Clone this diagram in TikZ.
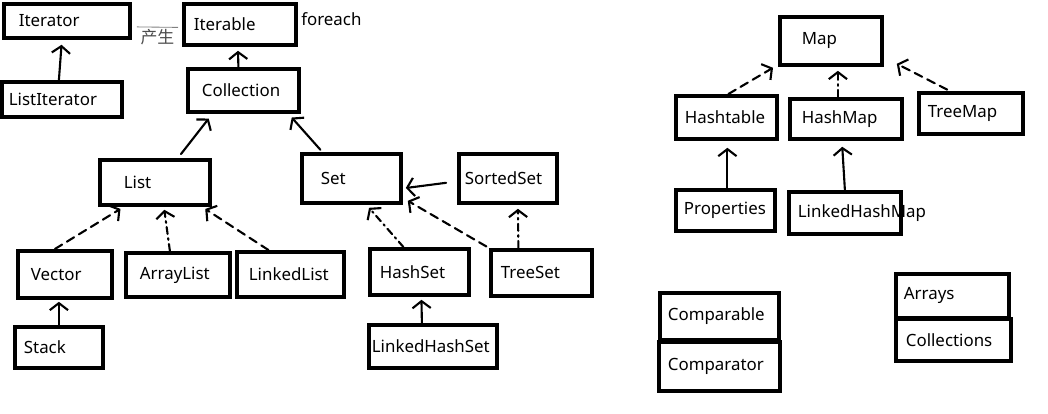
\documentclass[tikz,border=0pt]{standalone}
\usepackage{fontspec}
\setmainfont{Noto Sans}
\newfontfamily\cjk{Noto Sans CJK SC}
\usetikzlibrary{arrows.meta}
\newdimen\unitpx
\unitpx=0.025cm

\begin{document}
\begin{tikzpicture}[x=0.025cm, y=-0.025cm,
  cbox/.style={draw, line width=2.7pt, anchor=north west, align=left, inner ysep=0pt, font=\fontsize{12}{14}\selectfont},
  extends/.style={line width=1.5pt, line cap=round, -{Straight Barb[length=5pt,width=13pt]}},
  implements/.style={extends, dash pattern=on 6pt off 4pt},
  implements dot/.style={extends, dash pattern=on 5pt off 3pt on 1.2pt off 3pt}]

\useasboundingbox (0,0) rectangle (1048,414);

\node[cbox, text width=96\unitpx, inner xsep=15\unitpx, minimum height=34\unitpx] (iterator) at (2,2) {Iterator};
\node[cbox, text width=106\unitpx, inner xsep=7\unitpx, minimum height=35\unitpx] (listiterator) at (0,80) {ListIterator};
\node[cbox, text width=92\unitpx, inner xsep=10\unitpx, minimum height=41\unitpx] (iterable) at (182,2) {Iterable};
\node[anchor=west, inner sep=0pt, font=\fontsize{12}{14}\selectfont] (foreach) at (301,19) {foreach};
\node[cbox, text width=83\unitpx, inner xsep=14\unitpx, minimum height=43\unitpx] (collection) at (186,67) {Collection};
\node[cbox, text width=62\unitpx, inner xsep=24\unitpx, minimum height=45\unitpx] (list) at (98,158) {List};
\node[cbox, text width=61\unitpx, inner xsep=19\unitpx, minimum height=49\unitpx] (set) at (300,152) {Set};
\node[cbox, text width=86\unitpx, inner xsep=6\unitpx, minimum height=49\unitpx] (sortedset) at (457,152) {SortedSet};
\node[cbox, text width=68\unitpx, inner xsep=13\unitpx, minimum height=47\unitpx] (vector) at (16,249) {Vector};
\node[cbox, text width=76\unitpx, inner xsep=14\unitpx, minimum height=44\unitpx] (arraylist) at (124,251) {ArrayList};
\node[cbox, text width=83\unitpx, inner xsep=12\unitpx, minimum height=45\unitpx] (linkedlist) at (235,250) {LinkedList};
\node[cbox, text width=70\unitpx, inner xsep=9\unitpx, minimum height=41\unitpx] (stack) at (13,325) {Stack};
\node[cbox, text width=79\unitpx, inner xsep=10\unitpx, minimum height=46\unitpx] (hashset) at (368,247) {HashSet};
\node[cbox, text width=81\unitpx, inner xsep=10\unitpx, minimum height=46\unitpx] (treeset) at (489,248) {TreeSet};
\node[cbox, text width=122\unitpx, inner xsep=3\unitpx, minimum height=43\unitpx] (linkedhashset) at (367,323) {LinkedHashSet};
\node[cbox, text width=58\unitpx, inner xsep=22\unitpx, minimum height=48\unitpx] (map) at (778,15) {Map};
\node[cbox, text width=83\unitpx, inner xsep=9\unitpx, minimum height=43\unitpx] (hashtable) at (674,94) {Hashtable};
\node[cbox, text width=88\unitpx, inner xsep=12\unitpx, minimum height=40\unitpx] (hashmap) at (788,97) {HashMap};
\node[cbox, text width=86\unitpx, inner xsep=9\unitpx, minimum height=41\unitpx] (treemap) at (917,91) {TreeMap};
\node[cbox, text width=83\unitpx, inner xsep=8\unitpx, minimum height=41\unitpx] (properties) at (674,188) {Properties};
\node[cbox, text width=94\unitpx, inner xsep=9\unitpx, minimum height=42\unitpx] (linkedhashmap) at (787,190) {LinkedHashMap};
\node[cbox, text width=103\unitpx, inner xsep=8\unitpx, minimum height=47\unitpx] (comparable) at (658,291) {Comparable};
\node[cbox, text width=103\unitpx, inner xsep=9\unitpx, minimum height=49\unitpx] (comparator) at (657,340) {Comparator};
\node[cbox, text width=97\unitpx, inner xsep=8\unitpx, minimum height=44\unitpx] (arrays) at (894,272) {Arrays};
\node[cbox, text width=95\unitpx, inner xsep=10\unitpx, minimum height=42\unitpx] (collections) at (894,317) {Collections};

\draw[gray, line width=0.6pt] ([xshift=5\unitpx,yshift=-6\unitpx]iterator.east) -- node[below, inner sep=1pt, font=\cjk\fontsize{12}{14}\selectfont, text=black!70] (produce) {产生} ([xshift=-4\unitpx,yshift=-3\unitpx]iterable.west);

\draw[extends, shorten >=5\unitpx] ([xshift=-3\unitpx]listiterator.north) -- ([xshift=-5\unitpx]iterator.south);
\draw[extends, shorten >=4\unitpx] ([xshift=-5\unitpx]collection.north) -- ([xshift=-2\unitpx]iterable.south);
\draw[extends, shorten <=5\unitpx, shorten >=6\unitpx] ([xshift=23\unitpx]list.north) -- ([xshift=-31\unitpx]collection.south);
\draw[extends, shorten <=3\unitpx, shorten >=5\unitpx] ([xshift=-29\unitpx]set.north) -- ([xshift=45\unitpx]collection.south);
\draw[implements, shorten >=4\unitpx] ([xshift=-10\unitpx]vector.north) -- ([xshift=-31\unitpx]list.south);
\draw[implements dot, shorten >=3\unitpx] ([xshift=-8\unitpx]arraylist.north) -- ([xshift=9\unitpx]list.south);
\draw[implements, shorten >=4\unitpx] ([xshift=-22\unitpx]linkedlist.north) -- ([xshift=47\unitpx]list.south);
\draw[extends, shorten >=2\unitpx] (stack.north) -- ([xshift=-6\unitpx]vector.south);
\draw[extends, shorten <=11\unitpx, shorten >=3\unitpx] ([yshift=-3\unitpx]sortedset.west) -- ([yshift=-10\unitpx]set.east);
\draw[implements dot, shorten >=4\unitpx] ([xshift=-16\unitpx]hashset.north) -- ([xshift=15\unitpx]set.south);
\draw[implements, shorten <=3\unitpx] (treeset.north west) -- ([xshift=5\unitpx,yshift=4\unitpx]set.south east);
\draw[implements dot, shorten >=4\unitpx] ([xshift=-23\unitpx]treeset.north) -- ([xshift=10\unitpx]sortedset.south);
\draw[extends, shorten >=3\unitpx] ([xshift=-11\unitpx]linkedhashset.north) -- ([xshift=2\unitpx]hashset.south);
\draw[implements] ([xshift=2\unitpx]hashtable.north) -- ([xshift=-5\unitpx,yshift=-1\unitpx]map.south west);
\draw[implements dot, shorten >=4\unitpx] ([xshift=-8\unitpx]hashmap.north) -- ([xshift=7\unitpx]map.south);
\draw[implements, shorten <=3\unitpx] ([xshift=-21\unitpx]treemap.north) -- ([xshift=13\unitpx,yshift=3\unitpx]map.south east);
\draw[extends, shorten >=7\unitpx] ([xshift=2\unitpx]properties.north) -- ([xshift=1\unitpx]hashtable.south);
\draw[extends, shorten >=6\unitpx] (linkedhashmap.north) -- ([xshift=-4\unitpx]hashmap.south);
\end{tikzpicture}
\end{document}
